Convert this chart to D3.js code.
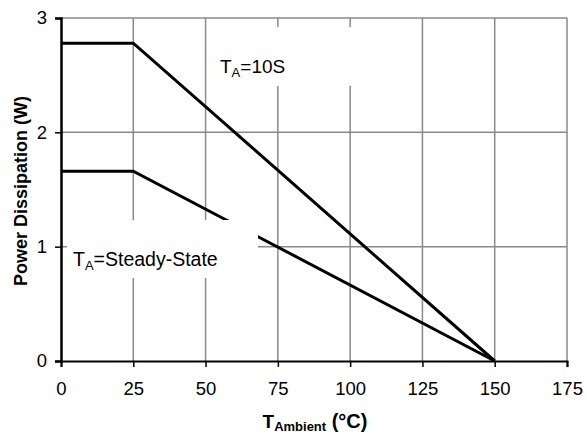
<!DOCTYPE html>
<html>
<head>
<meta charset="utf-8">
<script src="https://cdn.jsdelivr.net/npm/d3@7"></script>
<style>
  body { margin: 0; background: #fff; }
  text { font-family: "Liberation Sans", Arial, sans-serif; }
</style>
</head>
<body>
<svg></svg>
<script>
// temperatures (degC) and derating curves (W)
var temps = [0, 25, 150];
var tenSec = [2.78, 2.78, 0];
var steady = [1.66, 1.66, 0];
var xTicks = [0, 25, 50, 75, 100, 125, 150, 175];
var yTicks = [0, 1, 2, 3];

var svgWidth = 587, svgHeight = 437;
var svg = d3.select("svg")
    .attr("width", svgWidth)
    .attr("height", svgHeight);

var x = d3.scaleLinear().domain([0, 175]).range([61, 567]);
var y = d3.scaleLinear().domain([0, 3]).range([361, 18]);

// grid
svg.append("g")
    .selectAll("line")
    .data(xTicks.slice(1))
    .enter().append("line")
    .attr("x1", function(d) { return x(d); })
    .attr("x2", function(d) { return x(d); })
    .attr("y1", y(0))
    .attr("y2", y(3))
    .attr("stroke", "#8a8a8a")
    .attr("stroke-width", 1.5);

svg.append("g")
    .selectAll("line")
    .data(yTicks.slice(1))
    .enter().append("line")
    .attr("x1", x(0))
    .attr("x2", x(175))
    .attr("y1", function(d) { return y(d); })
    .attr("y2", function(d) { return y(d); })
    .attr("stroke", "#8a8a8a")
    .attr("stroke-width", 1.5);

// curves
var line = d3.line()
    .x(function(d) { return x(d[0]); })
    .y(function(d) { return y(d[1]); });

[tenSec, steady].forEach(function(s) {
    svg.append("path")
        .datum(d3.zip(temps, s))
        .attr("fill", "none")
        .attr("stroke", "#000")
        .attr("stroke-width", 3)
        .attr("d", line);
});

// label boxes hide grid and curve behind them
svg.append("rect")
    .attr("x", 210).attr("y", 27)
    .attr("width", 145).attr("height", 59)
    .attr("fill", "#fff");
svg.append("rect")
    .attr("x", 67).attr("y", 220)
    .attr("width", 191).attr("height", 58)
    .attr("fill", "#fff");

var lab1 = svg.append("text")
    .attr("x", 220).attr("y", 73)
    .attr("font-size", 19);
lab1.append("tspan").text("T");
lab1.append("tspan").attr("font-size", 13).attr("dy", 4).text("A");
lab1.append("tspan").attr("dy", -4).text("=10S");

var lab2 = svg.append("text")
    .attr("x", 73).attr("y", 266)
    .attr("font-size", 19.5);
lab2.append("tspan").text("T");
lab2.append("tspan").attr("font-size", 13).attr("dy", 4).text("A");
lab2.append("tspan").attr("dy", -4).text("=Steady-State");

// axes
var xAxis = svg.append("g")
    .attr("transform", "translate(0," + y(0) + ")")
    .call(d3.axisBottom(x).tickValues(xTicks).tickSize(6).tickPadding(15));
xAxis.select(".domain").attr("stroke-width", 2);
xAxis.selectAll(".tick line").attr("stroke-width", 1.5);
xAxis.selectAll("text").attr("font-size", 18.5).attr("font-family", "Liberation Sans, Arial, sans-serif");

var yAxis = svg.append("g")
    .attr("transform", "translate(" + x(0) + ",0)")
    .call(d3.axisLeft(y).tickValues(yTicks).tickFormat(d3.format("d")).tickSize(6).tickPadding(8));
yAxis.select(".domain").attr("stroke-width", 2.5);
yAxis.selectAll(".tick line").attr("stroke-width", 1.5);
yAxis.selectAll("text").attr("font-size", 18.5).attr("font-family", "Liberation Sans, Arial, sans-serif");

// titles
svg.append("text")
    .attr("transform", "translate(27,191) rotate(-90)")
    .attr("text-anchor", "middle")
    .attr("font-size", 18)
    .attr("font-weight", "bold")
    .text("Power Dissipation (W)");

var xt = svg.append("text")
    .attr("x", 315).attr("y", 428)
    .attr("text-anchor", "middle")
    .attr("font-weight", "bold")
    .attr("font-size", 19);
xt.append("tspan").text("T");
xt.append("tspan").attr("font-size", 13).attr("dy", 3).text("Ambient");
xt.append("tspan").attr("font-size", 20).attr("dy", -3).text(" (°C)");
</script>
</body>
</html>
